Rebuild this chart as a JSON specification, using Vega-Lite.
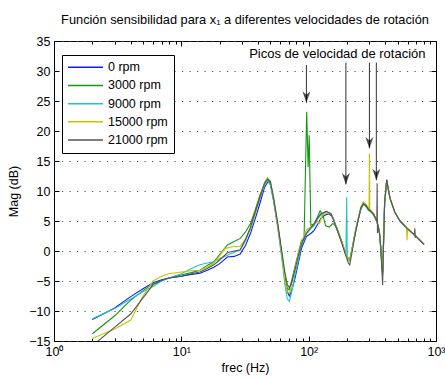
{
  "$schema": "https://vega.github.io/schema/vega-lite/v6.json",
  "width": 382,
  "height": 300,
  "autosize": "none",
  "padding": {"left": 54, "top": 41, "right": 9, "bottom": 37},
  "config": {
    "font": "Liberation Sans",
    "view": {"stroke": "black", "strokeWidth": 1},
    "axis": {"labelFont": "Liberation Sans", "titleFont": "Liberation Sans", "labelColor": "black", "titleColor": "black", "tickColor": "black", "labelFontSize": 12.5, "titleFontSize": 12.5, "titleFontWeight": "normal", "domain": false}
  },
  "title": {"text": "Función sensibilidad para x₁ a diferentes velocidades de rotación", "fontSize": 12.8, "fontWeight": "normal", "font": "Liberation Sans", "color": "black", "offset": 8, "anchor": "middle"},
  "datasets": {
    "curves": [
      {"f":2,"v":-11.4,"s":"0 rpm"},{"f":3,"v":-9.5,"s":"0 rpm"},{"f":4,"v":-7.6,"s":"0 rpm"},{"f":5,"v":-6.3,"s":"0 rpm"},{"f":6,"v":-5.3,"s":"0 rpm"},{"f":7,"v":-4.8,"s":"0 rpm"},{"f":8,"v":-4.5,"s":"0 rpm"},{"f":10,"v":-4.2,"s":"0 rpm"},{"f":12,"v":-3.9,"s":"0 rpm"},{"f":14,"v":-3.7,"s":"0 rpm"},{"f":16,"v":-3.2,"s":"0 rpm"},{"f":18,"v":-2.7,"s":"0 rpm"},{"f":20,"v":-2.1,"s":"0 rpm"},{"f":23,"v":-1.0,"s":"0 rpm"},{"f":26,"v":-0.9,"s":"0 rpm"},{"f":29,"v":-0.5,"s":"0 rpm"},{"f":32,"v":1.0,"s":"0 rpm"},{"f":35,"v":3.0,"s":"0 rpm"},{"f":38,"v":5.3,"s":"0 rpm"},{"f":41.5,"v":8.0,"s":"0 rpm"},{"f":45,"v":10.6,"s":"0 rpm"},{"f":48,"v":11.6,"s":"0 rpm"},{"f":50,"v":11.2,"s":"0 rpm"},{"f":53,"v":8.5,"s":"0 rpm"},{"f":57,"v":4.3,"s":"0 rpm"},{"f":62,"v":-1.0,"s":"0 rpm"},{"f":65,"v":-4.5,"s":"0 rpm"},{"f":68,"v":-6.8,"s":"0 rpm"},{"f":70.5,"v":-7.5,"s":"0 rpm"},{"f":73,"v":-6.8,"s":"0 rpm"},{"f":78,"v":-4.6,"s":"0 rpm"},{"f":83,"v":-2.0,"s":"0 rpm"},{"f":88,"v":0.5,"s":"0 rpm"},{"f":96,"v":2.4,"s":"0 rpm"},{"f":105,"v":3.0,"s":"0 rpm"},{"f":110,"v":3.4,"s":"0 rpm"},{"f":118,"v":4.5,"s":"0 rpm"},{"f":125,"v":5.5,"s":"0 rpm"},{"f":135,"v":6.0,"s":"0 rpm"},{"f":145,"v":6.2,"s":"0 rpm"},{"f":155,"v":5.6,"s":"0 rpm"},{"f":166,"v":3.8,"s":"0 rpm"},{"f":182,"v":1.5,"s":"0 rpm"},{"f":195,"v":-0.5,"s":"0 rpm"},{"f":205,"v":-1.5,"s":"0 rpm"},{"f":210,"v":-1.6,"s":"0 rpm"},{"f":218,"v":0.0,"s":"0 rpm"},{"f":224,"v":1.3,"s":"0 rpm"},{"f":235,"v":3.5,"s":"0 rpm"},{"f":245,"v":5.2,"s":"0 rpm"},{"f":257,"v":7.0,"s":"0 rpm"},{"f":269,"v":7.8,"s":"0 rpm"},{"f":282,"v":7.6,"s":"0 rpm"},{"f":294,"v":7.0,"s":"0 rpm"},{"f":310,"v":6.6,"s":"0 rpm"},{"f":322,"v":6.2,"s":"0 rpm"},{"f":335,"v":5.5,"s":"0 rpm"},{"f":350,"v":4.3,"s":"0 rpm"},{"f":360,"v":3.0,"s":"0 rpm"},{"f":368,"v":0.7,"s":"0 rpm"},{"f":376,"v":-2.5,"s":"0 rpm"},{"f":381,"v":-3.5,"s":"0 rpm"},{"f":386,"v":0.0,"s":"0 rpm"},{"f":395,"v":8.0,"s":"0 rpm"},{"f":410,"v":11.6,"s":"0 rpm"},{"f":435,"v":8.8,"s":"0 rpm"},{"f":476,"v":6.4,"s":"0 rpm"},{"f":521,"v":5.0,"s":"0 rpm"},{"f":590,"v":3.8,"s":"0 rpm"},{"f":660,"v":2.9,"s":"0 rpm"},{"f":730,"v":2.0,"s":"0 rpm"},{"f":805,"v":1.1,"s":"0 rpm"},

      {"f":2,"v":-13.8,"s":"3000 rpm"},{"f":3,"v":-10.8,"s":"3000 rpm"},{"f":4,"v":-8.2,"s":"3000 rpm"},{"f":5,"v":-6.6,"s":"3000 rpm"},{"f":6,"v":-5.5,"s":"3000 rpm"},{"f":7,"v":-4.9,"s":"3000 rpm"},{"f":8,"v":-4.5,"s":"3000 rpm"},{"f":10,"v":-4.0,"s":"3000 rpm"},{"f":12,"v":-3.6,"s":"3000 rpm"},{"f":14,"v":-3.2,"s":"3000 rpm"},{"f":16,"v":-2.4,"s":"3000 rpm"},{"f":18,"v":-1.8,"s":"3000 rpm"},{"f":20,"v":-0.6,"s":"3000 rpm"},{"f":23,"v":1.0,"s":"3000 rpm"},{"f":26,"v":1.6,"s":"3000 rpm"},{"f":29,"v":2.1,"s":"3000 rpm"},{"f":32,"v":3.2,"s":"3000 rpm"},{"f":35,"v":4.6,"s":"3000 rpm"},{"f":38,"v":6.8,"s":"3000 rpm"},{"f":41.5,"v":9.4,"s":"3000 rpm"},{"f":45,"v":11.2,"s":"3000 rpm"},{"f":47.5,"v":11.9,"s":"3000 rpm"},{"f":50,"v":11.4,"s":"3000 rpm"},{"f":53,"v":8.7,"s":"3000 rpm"},{"f":57,"v":4.5,"s":"3000 rpm"},{"f":62,"v":-1.2,"s":"3000 rpm"},{"f":65,"v":-4.4,"s":"3000 rpm"},{"f":68,"v":-6.2,"s":"3000 rpm"},{"f":70.5,"v":-6.5,"s":"3000 rpm"},{"f":73,"v":-5.2,"s":"3000 rpm"},{"f":78,"v":-2.6,"s":"3000 rpm"},{"f":83,"v":-0.3,"s":"3000 rpm"},{"f":88,"v":1.8,"s":"3000 rpm"},{"f":92,"v":2.0,"s":"3000 rpm"},{"f":96.5,"v":23.2,"s":"3000 rpm"},{"f":99,"v":14.0,"s":"3000 rpm"},{"f":101,"v":19.3,"s":"3000 rpm"},{"f":102.5,"v":11.3,"s":"3000 rpm"},{"f":104,"v":4.3,"s":"3000 rpm"},{"f":110,"v":4.5,"s":"3000 rpm"},{"f":118,"v":5.8,"s":"3000 rpm"},{"f":123,"v":6.7,"s":"3000 rpm"},{"f":130,"v":5.8,"s":"3000 rpm"},{"f":136,"v":4.2,"s":"3000 rpm"},{"f":145,"v":4.0,"s":"3000 rpm"},{"f":155,"v":4.6,"s":"3000 rpm"},{"f":166,"v":4.0,"s":"3000 rpm"},{"f":182,"v":1.6,"s":"3000 rpm"},{"f":195,"v":-0.5,"s":"3000 rpm"},{"f":205,"v":-1.3,"s":"3000 rpm"},{"f":210,"v":-1.4,"s":"3000 rpm"},{"f":218,"v":0.2,"s":"3000 rpm"},{"f":224,"v":1.5,"s":"3000 rpm"},{"f":235,"v":3.8,"s":"3000 rpm"},{"f":245,"v":5.4,"s":"3000 rpm"},{"f":257,"v":7.1,"s":"3000 rpm"},{"f":269,"v":7.8,"s":"3000 rpm"},{"f":282,"v":7.4,"s":"3000 rpm"},{"f":294,"v":6.8,"s":"3000 rpm"},{"f":310,"v":6.5,"s":"3000 rpm"},{"f":322,"v":6.0,"s":"3000 rpm"},{"f":335,"v":5.4,"s":"3000 rpm"},{"f":350,"v":4.4,"s":"3000 rpm"},{"f":360,"v":3.0,"s":"3000 rpm"},{"f":368,"v":0.6,"s":"3000 rpm"},{"f":376,"v":-2.8,"s":"3000 rpm"},{"f":381,"v":-4.0,"s":"3000 rpm"},{"f":386,"v":0.0,"s":"3000 rpm"},{"f":395,"v":8.0,"s":"3000 rpm"},{"f":410,"v":11.7,"s":"3000 rpm"},{"f":435,"v":8.8,"s":"3000 rpm"},{"f":476,"v":6.4,"s":"3000 rpm"},{"f":521,"v":5.0,"s":"3000 rpm"},{"f":590,"v":3.8,"s":"3000 rpm"},{"f":660,"v":2.9,"s":"3000 rpm"},{"f":730,"v":2.0,"s":"3000 rpm"},{"f":805,"v":1.1,"s":"3000 rpm"},

      {"f":2,"v":-11.3,"s":"9000 rpm"},{"f":3,"v":-9.6,"s":"9000 rpm"},{"f":4,"v":-8.0,"s":"9000 rpm"},{"f":5,"v":-6.8,"s":"9000 rpm"},{"f":6,"v":-5.9,"s":"9000 rpm"},{"f":7,"v":-5.0,"s":"9000 rpm"},{"f":8,"v":-4.5,"s":"9000 rpm"},{"f":10,"v":-3.8,"s":"9000 rpm"},{"f":12,"v":-2.9,"s":"9000 rpm"},{"f":14,"v":-2.3,"s":"9000 rpm"},{"f":16,"v":-2.0,"s":"9000 rpm"},{"f":18,"v":-1.8,"s":"9000 rpm"},{"f":20,"v":-1.3,"s":"9000 rpm"},{"f":23,"v":-0.7,"s":"9000 rpm"},{"f":26,"v":-0.2,"s":"9000 rpm"},{"f":29,"v":0.1,"s":"9000 rpm"},{"f":32,"v":1.8,"s":"9000 rpm"},{"f":35,"v":3.8,"s":"9000 rpm"},{"f":38,"v":6.2,"s":"9000 rpm"},{"f":41.5,"v":8.8,"s":"9000 rpm"},{"f":45,"v":11.0,"s":"9000 rpm"},{"f":47.5,"v":11.7,"s":"9000 rpm"},{"f":50,"v":11.0,"s":"9000 rpm"},{"f":53,"v":8.3,"s":"9000 rpm"},{"f":57,"v":4.0,"s":"9000 rpm"},{"f":62,"v":-1.8,"s":"9000 rpm"},{"f":65,"v":-5.6,"s":"9000 rpm"},{"f":68,"v":-8.0,"s":"9000 rpm"},{"f":70.5,"v":-8.4,"s":"9000 rpm"},{"f":73,"v":-7.2,"s":"9000 rpm"},{"f":78,"v":-4.0,"s":"9000 rpm"},{"f":83,"v":-1.5,"s":"9000 rpm"},{"f":88,"v":1.0,"s":"9000 rpm"},{"f":96,"v":2.8,"s":"9000 rpm"},{"f":105,"v":3.8,"s":"9000 rpm"},{"f":110,"v":4.2,"s":"9000 rpm"},{"f":118,"v":5.4,"s":"9000 rpm"},{"f":125,"v":6.0,"s":"9000 rpm"},{"f":138,"v":6.6,"s":"9000 rpm"},{"f":150,"v":6.2,"s":"9000 rpm"},{"f":166,"v":3.9,"s":"9000 rpm"},{"f":182,"v":1.5,"s":"9000 rpm"},{"f":196,"v":-0.5,"s":"9000 rpm"},{"f":199,"v":9.0,"s":"9000 rpm"},{"f":201,"v":-0.9,"s":"9000 rpm"},{"f":205,"v":-1.4,"s":"9000 rpm"},{"f":210,"v":-1.6,"s":"9000 rpm"},{"f":218,"v":0.1,"s":"9000 rpm"},{"f":224,"v":1.4,"s":"9000 rpm"},{"f":235,"v":3.6,"s":"9000 rpm"},{"f":245,"v":5.3,"s":"9000 rpm"},{"f":257,"v":7.1,"s":"9000 rpm"},{"f":269,"v":7.9,"s":"9000 rpm"},{"f":282,"v":7.6,"s":"9000 rpm"},{"f":294,"v":7.1,"s":"9000 rpm"},{"f":310,"v":6.7,"s":"9000 rpm"},{"f":322,"v":6.3,"s":"9000 rpm"},{"f":335,"v":5.6,"s":"9000 rpm"},{"f":350,"v":4.4,"s":"9000 rpm"},{"f":360,"v":3.0,"s":"9000 rpm"},{"f":368,"v":0.8,"s":"9000 rpm"},{"f":376,"v":-2.0,"s":"9000 rpm"},{"f":381,"v":-3.0,"s":"9000 rpm"},{"f":386,"v":2.0,"s":"9000 rpm"},{"f":395,"v":8.5,"s":"9000 rpm"},{"f":410,"v":11.8,"s":"9000 rpm"},{"f":435,"v":8.8,"s":"9000 rpm"},{"f":476,"v":6.4,"s":"9000 rpm"},{"f":521,"v":5.0,"s":"9000 rpm"},{"f":590,"v":3.8,"s":"9000 rpm"},{"f":660,"v":2.9,"s":"9000 rpm"},{"f":730,"v":2.0,"s":"9000 rpm"},{"f":805,"v":1.1,"s":"9000 rpm"},

      {"f":2,"v":-14.6,"s":"15000 rpm"},{"f":3,"v":-13.0,"s":"15000 rpm"},{"f":4,"v":-11.5,"s":"15000 rpm"},{"f":5,"v":-7.5,"s":"15000 rpm"},{"f":6,"v":-5.0,"s":"15000 rpm"},{"f":7,"v":-4.2,"s":"15000 rpm"},{"f":8,"v":-3.8,"s":"15000 rpm"},{"f":10,"v":-3.5,"s":"15000 rpm"},{"f":12,"v":-3.3,"s":"15000 rpm"},{"f":14,"v":-3.2,"s":"15000 rpm"},{"f":16,"v":-2.7,"s":"15000 rpm"},{"f":18,"v":-2.0,"s":"15000 rpm"},{"f":20,"v":-0.8,"s":"15000 rpm"},{"f":22,"v":0.4,"s":"15000 rpm"},{"f":25,"v":0.7,"s":"15000 rpm"},{"f":29,"v":0.8,"s":"15000 rpm"},{"f":32,"v":2.0,"s":"15000 rpm"},{"f":35,"v":3.7,"s":"15000 rpm"},{"f":38,"v":6.2,"s":"15000 rpm"},{"f":41.5,"v":9.0,"s":"15000 rpm"},{"f":45,"v":11.4,"s":"15000 rpm"},{"f":47.5,"v":12.2,"s":"15000 rpm"},{"f":50,"v":11.6,"s":"15000 rpm"},{"f":53,"v":8.8,"s":"15000 rpm"},{"f":57,"v":4.4,"s":"15000 rpm"},{"f":62,"v":-1.0,"s":"15000 rpm"},{"f":65,"v":-4.8,"s":"15000 rpm"},{"f":68,"v":-6.8,"s":"15000 rpm"},{"f":70.5,"v":-7.0,"s":"15000 rpm"},{"f":73,"v":-5.8,"s":"15000 rpm"},{"f":78,"v":-3.0,"s":"15000 rpm"},{"f":83,"v":-0.5,"s":"15000 rpm"},{"f":88,"v":1.5,"s":"15000 rpm"},{"f":96,"v":3.5,"s":"15000 rpm"},{"f":105,"v":4.1,"s":"15000 rpm"},{"f":110,"v":4.4,"s":"15000 rpm"},{"f":118,"v":4.9,"s":"15000 rpm"},{"f":122,"v":4.6,"s":"15000 rpm"},{"f":128,"v":6.0,"s":"15000 rpm"},{"f":138,"v":6.3,"s":"15000 rpm"},{"f":150,"v":6.3,"s":"15000 rpm"},{"f":166,"v":3.8,"s":"15000 rpm"},{"f":182,"v":1.5,"s":"15000 rpm"},{"f":196,"v":-0.6,"s":"15000 rpm"},{"f":205,"v":-1.5,"s":"15000 rpm"},{"f":210,"v":-1.7,"s":"15000 rpm"},{"f":218,"v":0.0,"s":"15000 rpm"},{"f":224,"v":1.3,"s":"15000 rpm"},{"f":235,"v":3.6,"s":"15000 rpm"},{"f":245,"v":5.4,"s":"15000 rpm"},{"f":257,"v":7.4,"s":"15000 rpm"},{"f":269,"v":8.2,"s":"15000 rpm"},{"f":282,"v":7.8,"s":"15000 rpm"},{"f":294,"v":7.2,"s":"15000 rpm"},{"f":298,"v":7.0,"s":"15000 rpm"},{"f":300,"v":16.3,"s":"15000 rpm"},{"f":302,"v":7.0,"s":"15000 rpm"},{"f":310,"v":6.6,"s":"15000 rpm"},{"f":322,"v":6.2,"s":"15000 rpm"},{"f":335,"v":5.5,"s":"15000 rpm"},{"f":350,"v":4.4,"s":"15000 rpm"},{"f":360,"v":3.0,"s":"15000 rpm"},{"f":368,"v":0.7,"s":"15000 rpm"},{"f":376,"v":-2.5,"s":"15000 rpm"},{"f":381,"v":-4.0,"s":"15000 rpm"},{"f":386,"v":0.5,"s":"15000 rpm"},{"f":395,"v":8.0,"s":"15000 rpm"},{"f":410,"v":11.8,"s":"15000 rpm"},{"f":435,"v":8.8,"s":"15000 rpm"},{"f":476,"v":6.4,"s":"15000 rpm"},{"f":521,"v":5.0,"s":"15000 rpm"},{"f":585,"v":3.9,"s":"15000 rpm"},{"f":592,"v":1.8,"s":"15000 rpm"},{"f":598,"v":3.8,"s":"15000 rpm"},{"f":660,"v":2.9,"s":"15000 rpm"},{"f":730,"v":2.0,"s":"15000 rpm"},{"f":805,"v":1.1,"s":"15000 rpm"},

      {"f":2,"v":-15.8,"s":"21000 rpm"},{"f":3,"v":-12.7,"s":"21000 rpm"},{"f":4,"v":-10.5,"s":"21000 rpm"},{"f":5,"v":-7.8,"s":"21000 rpm"},{"f":6,"v":-5.6,"s":"21000 rpm"},{"f":7,"v":-4.9,"s":"21000 rpm"},{"f":8,"v":-4.5,"s":"21000 rpm"},{"f":10,"v":-4.2,"s":"21000 rpm"},{"f":12,"v":-3.8,"s":"21000 rpm"},{"f":14,"v":-3.5,"s":"21000 rpm"},{"f":16,"v":-2.9,"s":"21000 rpm"},{"f":18,"v":-2.3,"s":"21000 rpm"},{"f":20,"v":-1.5,"s":"21000 rpm"},{"f":23,"v":-0.3,"s":"21000 rpm"},{"f":26,"v":0.0,"s":"21000 rpm"},{"f":29,"v":0.2,"s":"21000 rpm"},{"f":32,"v":2.0,"s":"21000 rpm"},{"f":35,"v":4.0,"s":"21000 rpm"},{"f":38,"v":6.5,"s":"21000 rpm"},{"f":41.5,"v":9.0,"s":"21000 rpm"},{"f":45,"v":11.3,"s":"21000 rpm"},{"f":47.5,"v":12.0,"s":"21000 rpm"},{"f":50,"v":11.6,"s":"21000 rpm"},{"f":53,"v":8.9,"s":"21000 rpm"},{"f":57,"v":4.8,"s":"21000 rpm"},{"f":62,"v":-0.5,"s":"21000 rpm"},{"f":65,"v":-3.5,"s":"21000 rpm"},{"f":68,"v":-5.6,"s":"21000 rpm"},{"f":70.5,"v":-6.1,"s":"21000 rpm"},{"f":73,"v":-5.5,"s":"21000 rpm"},{"f":78,"v":-3.2,"s":"21000 rpm"},{"f":83,"v":-0.8,"s":"21000 rpm"},{"f":88,"v":1.2,"s":"21000 rpm"},{"f":96,"v":3.0,"s":"21000 rpm"},{"f":105,"v":4.0,"s":"21000 rpm"},{"f":110,"v":4.4,"s":"21000 rpm"},{"f":118,"v":5.6,"s":"21000 rpm"},{"f":125,"v":6.2,"s":"21000 rpm"},{"f":138,"v":6.6,"s":"21000 rpm"},{"f":150,"v":6.2,"s":"21000 rpm"},{"f":166,"v":3.7,"s":"21000 rpm"},{"f":182,"v":1.3,"s":"21000 rpm"},{"f":196,"v":-0.8,"s":"21000 rpm"},{"f":205,"v":-2.0,"s":"21000 rpm"},{"f":210,"v":-2.3,"s":"21000 rpm"},{"f":218,"v":-0.5,"s":"21000 rpm"},{"f":224,"v":1.0,"s":"21000 rpm"},{"f":235,"v":3.4,"s":"21000 rpm"},{"f":245,"v":5.2,"s":"21000 rpm"},{"f":257,"v":7.2,"s":"21000 rpm"},{"f":269,"v":7.9,"s":"21000 rpm"},{"f":282,"v":7.6,"s":"21000 rpm"},{"f":294,"v":7.0,"s":"21000 rpm"},{"f":310,"v":6.5,"s":"21000 rpm"},{"f":322,"v":6.2,"s":"21000 rpm"},{"f":335,"v":5.4,"s":"21000 rpm"},{"f":343,"v":5.0,"s":"21000 rpm"},{"f":345,"v":11.3,"s":"21000 rpm"},{"f":347,"v":3.0,"s":"21000 rpm"},{"f":350,"v":4.3,"s":"21000 rpm"},{"f":360,"v":2.9,"s":"21000 rpm"},{"f":368,"v":0.6,"s":"21000 rpm"},{"f":376,"v":-3.0,"s":"21000 rpm"},{"f":381,"v":-5.7,"s":"21000 rpm"},{"f":386,"v":0.0,"s":"21000 rpm"},{"f":395,"v":8.0,"s":"21000 rpm"},{"f":410,"v":11.9,"s":"21000 rpm"},{"f":435,"v":8.8,"s":"21000 rpm"},{"f":476,"v":6.4,"s":"21000 rpm"},{"f":521,"v":5.0,"s":"21000 rpm"},{"f":590,"v":3.8,"s":"21000 rpm"},{"f":660,"v":2.9,"s":"21000 rpm"},{"f":676,"v":2.7,"s":"21000 rpm"},{"f":682,"v":3.8,"s":"21000 rpm"},{"f":688,"v":2.2,"s":"21000 rpm"},{"f":696,"v":2.5,"s":"21000 rpm"},{"f":730,"v":2.0,"s":"21000 rpm"},{"f":805,"v":1.1,"s":"21000 rpm"}
    ],
    "arrows": [
      {"f":96,"top":31.0,"tip":24.7},
      {"f":196,"top":31.4,"tip":11.1},
      {"f":300,"top":31.4,"tip":17.1},
      {"f":340,"top":31.4,"tip":11.8}
    ],
    "note": [
      {"f":168,"v":32.8,"label":"Picos de velocidad de rotación"}
    ]
  },
  "resolve": {"axis": {"x": "independent", "y": "independent"}},
  "layer": [
    {
      "data": {"name": "curves"},
      "mark": {"type": "line", "strokeWidth": 1.1, "clip": true},
      "encoding": {
        "x": {"field": "f", "type": "quantitative",
          "scale": {"type": "log", "domain": [1, 1000], "nice": false},
          "axis": {"orient": "bottom", "title": "frec (Hz)", "grid": false,
            "values": [1, 10, 100, 1000],
            "labelExpr": "datum.value==1?'10⁰':datum.value==10?'10¹':datum.value==100?'10²':'10³'",
            "tickSize": -5, "labelPadding": 9, "labelOverlap": false, "labelFlush": false, "labelBound": false, "titlePadding": 4}},
        "y": {"field": "v", "type": "quantitative",
          "scale": {"domain": [-15, 35], "nice": false},
          "axis": {"orient": "left", "title": "Mag (dB)", "values": [-15,-10,-5,0,5,10,15,20,25,30,35],
            "tickSize": -5, "labelPadding": 9, "grid": true, "gridColor": "#555555", "gridDash": [1.2, 6.3], "titlePadding": 8}},
        "color": {"field": "s", "type": "nominal",
          "scale": {"domain": ["0 rpm","3000 rpm","9000 rpm","15000 rpm","21000 rpm"], "range": ["#0a1fff","#119911","#22c4c4","#c4c400","#555555"]},
          "legend": {"orient": "none", "legendX": 8, "legendY": 14, "title": null, "strokeColor": "black", "fillColor": "white", "padding": 6, "labelFontSize": 12.5, "labelFont": "Liberation Sans", "labelColor": "black", "symbolType": "M-1.25,0H5.75", "symbolSize": 100, "symbolStrokeWidth": 1.5, "labelOffset": 27.5, "rowPadding": 5.2}}
      }
    },
    {
      "data": {"name": "arrows"},
      "mark": {"type": "rule", "color": "#333333"},
      "encoding": {
        "x": {"field": "f", "type": "quantitative", "scale": {"type": "log", "domain": [1, 1000], "nice": false},
          "axis": {"orient": "top", "title": null, "labels": false, "grid": false, "values": [1, 10, 100, 1000], "tickSize": -5}},
        "y": {"field": "top", "type": "quantitative", "scale": {"domain": [-15, 35], "nice": false},
          "axis": {"orient": "right", "title": null, "labels": false, "grid": false, "values": [-15,-10,-5,0,5,10,15,20,25,30,35], "tickSize": -5}},
        "y2": {"field": "tip"}
      }
    },
    {
      "data": {"name": "arrows"},
      "mark": {"type": "point", "filled": true, "color": "black", "size": 400, "shape": "M0,0L-0.4,-1.15L0,-0.8L0.4,-1.15Z"},
      "encoding": {
        "x": {"field": "f", "type": "quantitative", "scale": {"type": "log", "domain": [1, 1000], "nice": false},
          "axis": {"orient": "bottom", "title": null, "labels": false, "grid": false, "values": [2,3,4,5,6,7,8,9,20,30,40,50,60,70,80,90,200,300,400,500,600,700,800,900], "tickSize": -3}},
        "y": {"field": "tip", "type": "quantitative", "scale": {"domain": [-15, 35], "nice": false}, "axis": null}
      }
    },
    {
      "data": {"name": "note"},
      "mark": {"type": "text", "fontSize": 13, "font": "Liberation Sans", "color": "black", "align": "center", "baseline": "middle"},
      "encoding": {
        "x": {"field": "f", "type": "quantitative", "scale": {"type": "log", "domain": [1, 1000], "nice": false},
          "axis": {"orient": "top", "title": null, "labels": false, "grid": false, "values": [2,3,4,5,6,7,8,9,20,30,40,50,60,70,80,90,200,300,400,500,600,700,800,900], "tickSize": -3}},
        "y": {"field": "v", "type": "quantitative", "scale": {"domain": [-15, 35], "nice": false}, "axis": null},
        "text": {"field": "label"}
      }
    }
  ]
}
